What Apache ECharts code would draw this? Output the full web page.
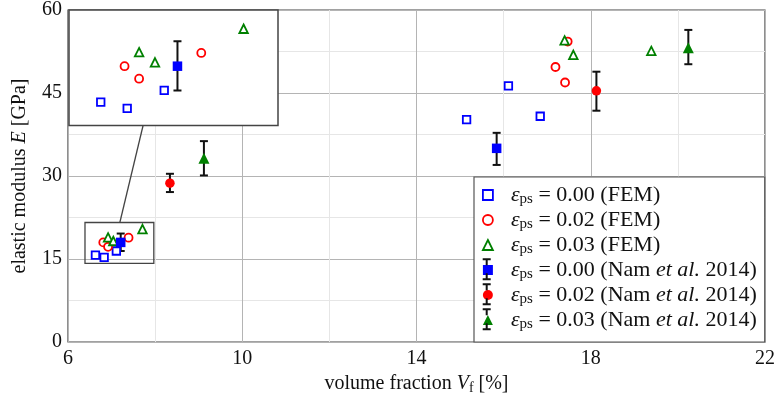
<!DOCTYPE html>
<html><head><meta charset="utf-8">
<script src="https://cdn.jsdelivr.net/npm/echarts@6/dist/echarts.min.js"></script>
<style>html,body{margin:0;padding:0;background:#fff}#c{width:778px;height:401px}</style>
</head><body><div id="c"></div>
<script>
// ---- data (volume fraction %, elastic modulus GPa) ----
const fem00 = [[6.63,15.7],[6.83,15.3],[7.11,16.45],[15.15,40.2],[16.11,46.3],[16.84,40.8]];
const fem02 = [[6.81,18.0],[6.92,17.2],[7.39,18.85],[17.19,49.7],[17.41,46.9],[17.47,54.3]];
const fem03 = [[6.92,18.9],[7.04,18.25],[7.71,20.4],[17.40,54.5],[17.60,51.9],[19.39,52.6]];
// [x, y, yLow, yHigh]
const nam00 = [[7.21,18.0,16.45,19.6],[15.84,35.0,32.0,37.8]];
const nam02 = [[8.34,28.7,27.1,30.4],[18.13,45.4,41.8,48.85]];
const nam03 = [[9.12,33.2,30.1,36.3],[20.24,53.2,50.2,56.4]];
// zoom window shown in the inset
const zoomX = [6.39, 7.97];
const zoomY = [14.2, 21.6];
const connX = [6.95, 7.19]; // connector: x on inset bottom, x on box top
const xRange = [6, 22], xStep = 4;
const yRange = [0, 60], yStep = 15;
const seriesNames = ['fem00','fem02','fem03','nam00','nam02','nam03'];
const epsVals = ['0.00','0.02','0.03','0.00','0.02','0.03'];
const srcTags = ['FEM','FEM','FEM','Nam','Nam','Nam'];

const BLUE='#0000ff', RED='#ff0000', GREEN='#008000';
const SERIF='Liberation Serif';
const chart = echarts.init(document.getElementById('c'), null, {renderer:'canvas'});

function femSeries(name, data, symbol, size, color, gi){
  return {name, type:'scatter', data, symbol, symbolSize:size, xAxisIndex:gi, yAxisIndex:gi,
    z: gi?7:3, clip:true,
    itemStyle:{color:'#fff', borderColor:color, borderWidth:1.8, opacity:1}, emphasis:{disabled:true}};
}
function namSeries(name, data, symbol, size, color, gi){
  return {name, type:'scatter', data:data.map(d=>[d[0],d[1]]), symbol, symbolSize:size,
    xAxisIndex:gi, yAxisIndex:gi, z: gi?8:4, clip:true,
    itemStyle:{color:color, opacity:1}, emphasis:{disabled:true}};
}
function errSeries(name, data, gi){
  return {name, type:'custom', xAxisIndex:gi, yAxisIndex:gi, z: gi?7:3, clip:true, data,
    renderItem:function(params, api){
      const x=api.value(0), lo=api.value(2), hi=api.value(3);
      const pt=api.coord([x,hi]), pb=api.coord([x,lo]);
      const w=4, st={stroke:'#111', lineWidth:2};
      return {type:'group', children:[
        {type:'line', shape:{x1:pt[0],y1:pt[1],x2:pb[0],y2:pb[1]}, style:st},
        {type:'line', shape:{x1:pt[0]-w,y1:pt[1],x2:pt[0]+w,y2:pt[1]}, style:st},
        {type:'line', shape:{x1:pb[0]-w,y1:pb[1],x2:pb[0]+w,y2:pb[1]}, style:st}
      ]};
    }};
}
function allSeries(gi){
  return [
    femSeries('fem00', fem00, 'rect', 7.5, BLUE, gi),
    femSeries('fem02', fem02, 'circle', 8, RED, gi),
    femSeries('fem03', fem03, 'triangle', 8.5, GREEN, gi),
    errSeries('eb00', nam00, gi), namSeries('nam00', nam00, 'rect', 9.5, BLUE, gi),
    errSeries('eb02', nam02, gi), namSeries('nam02', nam02, 'circle', 9.5, RED, gi),
    errSeries('eb03', nam03, gi), namSeries('nam03', nam03, 'triangle', 11, GREEN, gi)
  ];
}
const boxSeries = {name:'zoombox', type:'custom', xAxisIndex:0, yAxisIndex:0, z:2,
  data:[[zoomX[0],zoomY[0],zoomX[1],zoomY[1]]],
  renderItem:function(params, api){
    const a=api.coord([api.value(0),api.value(3)]), b=api.coord([api.value(2),api.value(1)]);
    return {type:'rect', shape:{x:a[0],y:a[1],width:b[0]-a[0],height:b[1]-a[1]},
      style:{fill:'none', stroke:'#444', lineWidth:1.3}};
  }};

const txt = {fontFamily:SERIF, fontSize:22, lineHeight:20, color:'#111'};
const legendRich = {
  e:Object.assign({}, txt, {fontStyle:'italic', padding:[0,0,0,13]}),
  s:{fontFamily:SERIF, fontSize:15, lineHeight:8, verticalAlign:'top', padding:[7,0,0,0], color:'#111'},
  t:txt,
  i:Object.assign({}, txt, {fontStyle:'italic'})
};
function legendLabel(name){
  const k = seriesNames.indexOf(name);
  const head = '{e|ε}{s|ps}{t| = '+epsVals[k]+' (}';
  if (srcTags[k]==='FEM') return head+'{t|FEM)}';
  return head+'{t|Nam }{i|et al.}{t| 2014)}';
}
const iconStyles = {
  fem00:{icon:'rect', itemStyle:{color:'#fff', borderColor:BLUE, borderWidth:1.8}},
  fem02:{icon:'circle', itemStyle:{color:'#fff', borderColor:RED, borderWidth:1.8}},
  fem03:{icon:'triangle', itemStyle:{color:'#fff', borderColor:GREEN, borderWidth:1.8}},
  nam00:{icon:'rect', itemStyle:{color:BLUE, borderWidth:0}},
  nam02:{icon:'circle', itemStyle:{color:RED, borderWidth:0}},
  nam03:{icon:'triangle', itemStyle:{color:GREEN, borderWidth:0}}
};
const ibeam = 'path://M0,0H8V2H0Z M3,2H5V7H3Z M3,15H5V20H3Z M0,20H8V22H0Z';

const axisFont = {fontFamily:SERIF, fontSize:20, color:'#111'};
const option = {
  animation:false,
  backgroundColor:'#fff',
  grid:[
    {left:68, right:12, top:10, bottom:59, show:true, borderColor:'#444', borderWidth:1.2, backgroundColor:'transparent', z:0},
    {left:69, top:10, width:209, height:115.5, show:true, borderColor:'#444', borderWidth:1.5, backgroundColor:'#fff', z:5}
  ],
  xAxis:[
    {type:'value', gridIndex:0, min:xRange[0], max:xRange[1], interval:xStep,
     axisLine:{show:false}, axisTick:{show:false},
     axisLabel:Object.assign({margin:7}, axisFont),
     splitLine:{show:true, lineStyle:{color:'#b4b4b4', width:1}},
     minorTick:{show:false, splitNumber:2},
     minorSplitLine:{show:true, lineStyle:{color:'#e6e6e6', width:1}},
     name:'{t|volume fraction }{i|V}{s|f}{t| [%]}', nameLocation:'middle', nameGap:32,
     nameTextStyle:{rich:{
       t:{fontFamily:SERIF, fontSize:20, lineHeight:20, color:'#111'},
       i:{fontFamily:SERIF, fontSize:20, lineHeight:20, fontStyle:'italic', color:'#111'},
       s:{fontFamily:SERIF, fontSize:14, lineHeight:8, verticalAlign:'top', padding:[7,0,0,0], color:'#111'}}}},
    {type:'value', gridIndex:1, min:zoomX[0], max:zoomX[1], show:false, splitLine:{show:false}}
  ],
  yAxis:[
    {type:'value', gridIndex:0, min:yRange[0], max:yRange[1], interval:yStep,
     axisLine:{show:false}, axisTick:{show:false},
     axisLabel:Object.assign({margin:6}, axisFont),
     splitLine:{show:true, lineStyle:{color:'#b4b4b4', width:1}},
     minorTick:{show:false, splitNumber:2},
     minorSplitLine:{show:true, lineStyle:{color:'#e6e6e6', width:1}},
     name:'{t|elastic modulus }{i|E}{t| [GPa]}', nameLocation:'middle', nameGap:38,
     nameTextStyle:{rich:{
       t:{fontFamily:SERIF, fontSize:20, lineHeight:20, color:'#111'},
       i:{fontFamily:SERIF, fontSize:20, lineHeight:20, fontStyle:'italic', color:'#111'}}}},
    {type:'value', gridIndex:1, min:zoomY[0], max:zoomY[1], show:false, splitLine:{show:false}}
  ],
  legend:[
    {orient:'vertical', left:474, top:177, padding:[7,8,10,8], itemGap:2,
     itemWidth:10, itemHeight:10, backgroundColor:'#fff', borderColor:'#555', borderWidth:1.2,
     z:10, selectedMode:false,
     data:seriesNames.map(n=>Object.assign({name:n}, iconStyles[n])),
     formatter:legendLabel,
     textStyle:{fontFamily:SERIF, fontSize:22, lineHeight:20, rich:legendRich}},
    {orient:'vertical', left:482.7, top:258.3, padding:0, itemGap:3,
     itemWidth:8, itemHeight:22, z:11, selectedMode:false,
     data:['eb00','eb02','eb03'].map(n=>({name:n, icon:ibeam, itemStyle:{color:'#111', borderWidth:0}})),
     formatter:()=>'', textStyle:{fontSize:1, lineHeight:1}}
  ],
  series:[boxSeries].concat(allSeries(0), allSeries(1))
};
chart.setOption(option);
const p1 = chart.convertToPixel({xAxisIndex:1, yAxisIndex:1}, [connX[0], zoomY[0]]);
const p2 = chart.convertToPixel({xAxisIndex:0, yAxisIndex:0}, [connX[1], zoomY[1]]);
chart.setOption({graphic:[{type:'line', z:9, shape:{x1:p1[0], y1:p1[1], x2:p2[0], y2:p2[1]},
  style:{stroke:'#444', lineWidth:1.3}}]});
</script></body></html>
